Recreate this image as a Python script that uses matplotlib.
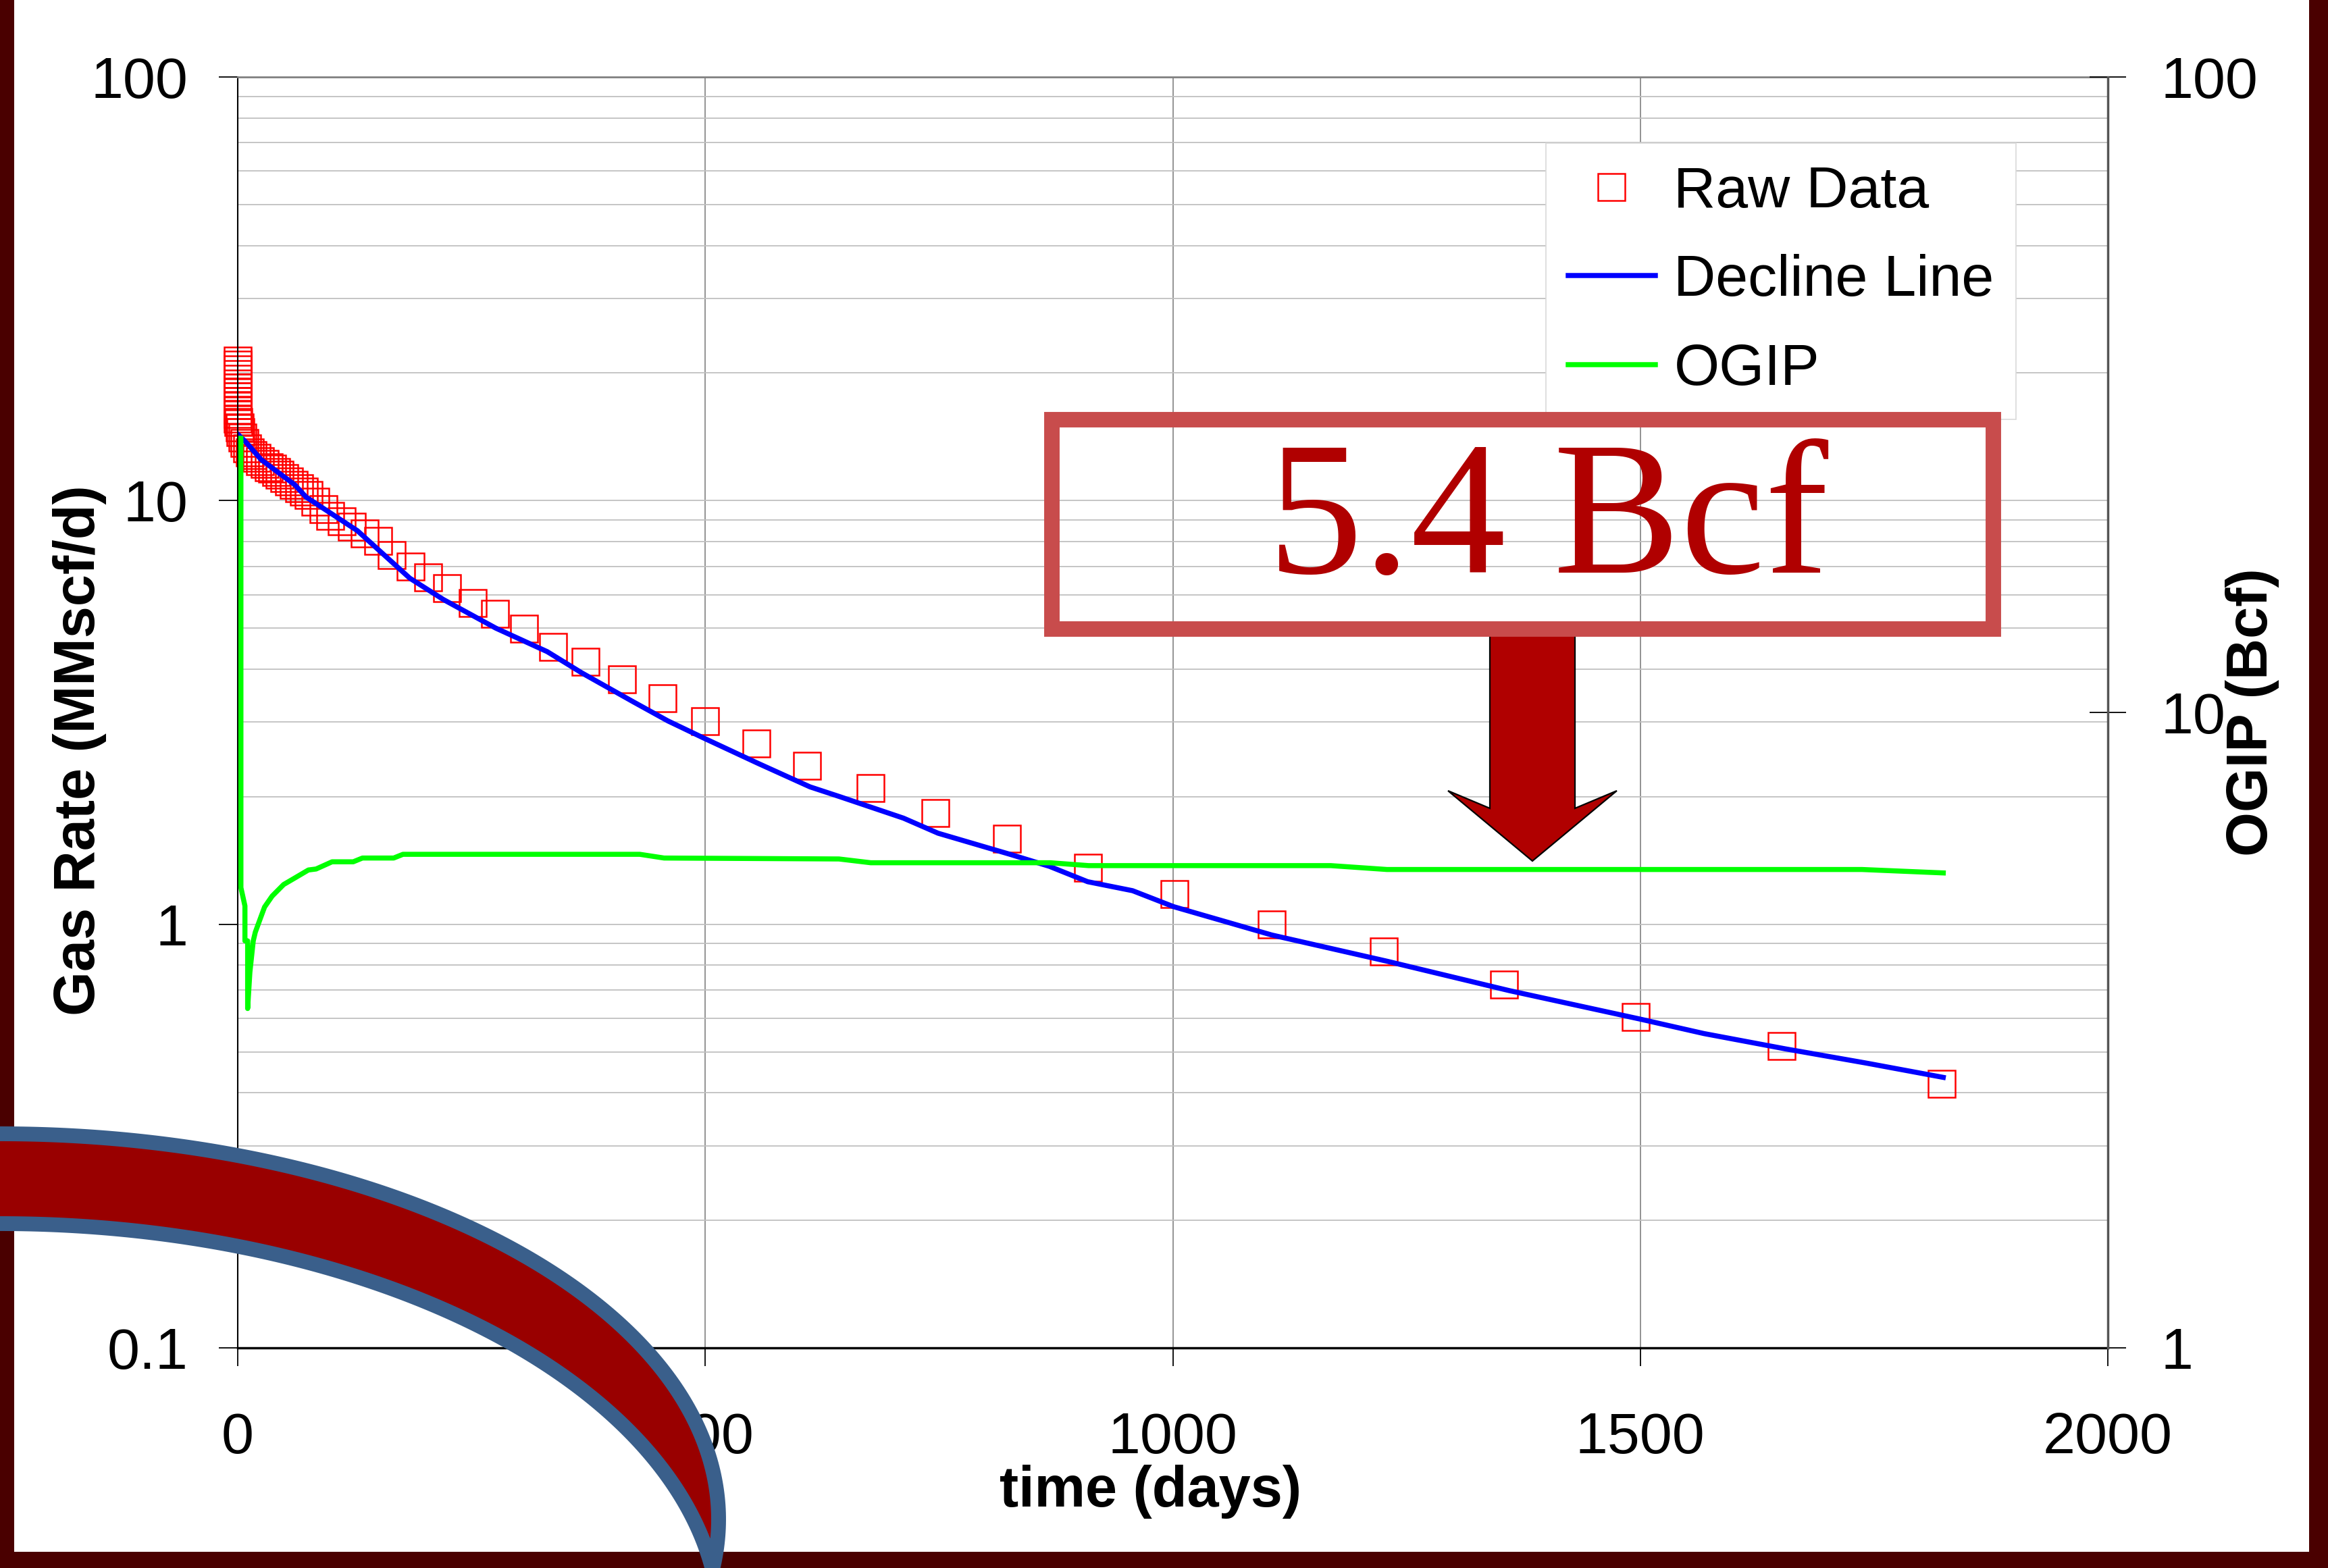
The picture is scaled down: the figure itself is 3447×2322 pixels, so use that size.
import numpy as np
import matplotlib
matplotlib.use("Agg")
import matplotlib.pyplot as plt
from matplotlib.patches import Rectangle, Polygon
from matplotlib.ticker import FixedLocator, FuncFormatter, NullLocator, NullFormatter, LogLocator

W, H = 3447, 2322

# raw production data (days, MMscf/d)
raw_days = [0, 0, 0, 0, 0, 0, 0, 0, 0, 0, 0, 0, 0, 0,
            1, 2, 3, 5, 7, 10, 13, 16, 20, 24, 29, 33, 37, 41, 45, 50, 55, 60,
            66, 71, 76, 83, 92, 99, 111, 122, 136, 150, 165, 185, 204, 224, 251,
            275, 306, 337, 372, 411, 454, 500, 555, 609, 677, 746, 823, 909,
            1002, 1106, 1226, 1354, 1495, 1651, 1822]
raw_rate = [21.4, 20.9, 20.4, 19.9, 19.4, 18.9, 18.5, 18.0, 17.6, 17.2, 16.8, 16.4, 16.0, 15.6,
            15.3, 14.9, 14.5, 14.1, 13.7, 13.3, 13.0, 12.8, 12.6, 12.4, 12.2, 12.0, 11.9, 11.7,
            11.5, 11.3, 11.1, 10.9, 10.7, 10.5, 10.3, 9.95, 9.56, 9.2, 8.95, 8.69, 8.37, 8.04,
            7.45, 7.0, 6.6, 6.22, 5.74, 5.41, 4.99, 4.52, 4.17, 3.78, 3.42, 3.02, 2.67, 2.37,
            2.10, 1.83, 1.59, 1.36, 1.18, 1.00, 0.862, 0.721, 0.603, 0.515, 0.420]

# decline curve
decline_days = [0, 8, 25, 40, 61, 73, 128, 184, 220, 276, 331, 368, 423, 460, 497,
                556, 612, 644, 712, 749, 827, 868, 909, 957, 1001, 1106, 1229, 1360,
                1500, 1568, 1655, 1742, 1824]
decline_rate = [14.35, 13.8, 12.5, 11.8, 10.9, 10.2, 8.49, 6.56, 5.84, 5.0, 4.40, 3.92,
                3.35, 3.02, 2.76, 2.40, 2.11, 2.0, 1.78, 1.64, 1.46, 1.37, 1.26, 1.20, 1.10,
                0.943, 0.818, 0.697, 0.597, 0.552, 0.508, 0.470, 0.435]

# OGIP estimate (Bcf), right axis
ogip_days = [3.4, 3.4, 7.7, 7.7, 10.6, 10.6, 13, 16.6, 18.8, 25.1, 28.7, 36.8, 49.1, 61.2,
             75.6, 83.8, 100.9, 123.5, 133.4, 166.8, 176.7, 430, 456, 643, 677, 869, 910,
             1169, 1229, 1650, 1737, 1824]
ogip_bcf = [27.0, 5.3, 4.96, 4.37, 4.37, 3.42, 3.9, 4.37, 4.51, 4.78, 4.94, 5.14, 5.36, 5.49,
            5.65, 5.67, 5.82, 5.82, 5.90, 5.90, 5.98, 5.98, 5.90, 5.88, 5.80, 5.80, 5.74,
            5.74, 5.66, 5.66, 5.66, 5.59]

rate_ticks = [0.1, 1, 10, 100]
ogip_ticks = [1, 10, 100]
time_ticks = [0, 500, 1000, 1500, 2000]
callout = "5.4 Bcf"


def fx(x):
    return x / W


def fy(y):
    return 1 - y / H


def main():
    plt.rcParams['font.family'] = ['Liberation Sans', 'DejaVu Sans']
    fig = plt.figure(figsize=(W / 100, H / 100), dpi=100, facecolor='white')

    ax = fig.add_axes([fx(352), fy(1996), (3121 - 352) / W, (1996 - 114) / H])
    ax.set_yscale('log')
    ax.set_xlim(0, 2000)
    ax.set_ylim(0.1, 100)
    ax.xaxis.set_major_locator(FixedLocator(time_ticks))
    ax.yaxis.set_major_locator(FixedLocator(rate_ticks))
    ax.yaxis.set_major_formatter(FuncFormatter(lambda v, p: '%g' % v))
    ax.yaxis.set_minor_locator(LogLocator(base=10, subs=range(2, 10)))
    ax.yaxis.set_minor_formatter(NullFormatter())
    ax.grid(which='both', axis='y', color='#c0c0c0', lw=1.3)
    ax.grid(which='major', axis='x', color='#808080', lw=1.2)
    ax.set_axisbelow(True)
    ax.tick_params(which='minor', length=0)
    ax.tick_params(axis='y', which='major', direction='out', length=20, width=1.3,
                   pad=33, labelsize=62)
    ax.tick_params(axis='x', which='major', direction='out', length=19.5, width=1.3,
                   pad=48, labelsize=62)

    ax.spines['top'].set_color('#808080')
    ax.spines['top'].set_linewidth(2)
    ax.spines['right'].set_visible(False)
    ax.spines['left'].set_linewidth(1.5)
    ax.spines['bottom'].set_linewidth(2.5)

    l_raw, = ax.plot(raw_days, raw_rate, ls='none', marker='s', ms=28.5, mfc='none',
                     mec='#ff0000', mew=1.8, clip_on=False, label='Raw Data')
    l_dec, = ax.plot(decline_days, decline_rate, color='#0000ff', lw=5.4, label='Decline Line')

    ax.set_xlabel('time (days)', fontsize=61, fontweight='bold')
    ax.xaxis.set_label_coords(0.488, -0.092)
    ax.set_ylabel('Gas Rate (MMscf/d)', fontsize=61, fontweight='bold')
    ax.yaxis.set_label_coords(-0.070, 0.47)

    ax2 = ax.twinx()
    ax2.set_yscale('log')
    ax2.set_ylim(1, 100)
    ax2.yaxis.set_major_locator(FixedLocator(ogip_ticks))
    ax2.yaxis.set_major_formatter(FuncFormatter(lambda v, p: '%g' % v))
    ax2.yaxis.set_minor_locator(NullLocator())
    ax2.tick_params(axis='y', direction='inout', length=39, width=1.3, pad=37, labelsize=62)
    for s in ['left', 'top', 'bottom']:
        ax2.spines[s].set_visible(False)
    ax2.spines['right'].set_color('#555555')
    ax2.spines['right'].set_linewidth(2.5)

    l_ogip, = ax2.plot(ogip_days, ogip_bcf, color='#00ff00', lw=5.4, label='OGIP')
    ax2.set_ylabel('OGIP (Bcf)', fontsize=61, fontweight='bold')
    ax2.yaxis.set_label_coords(1.0629, 0.5)

    leg = ax2.legend([l_raw, l_dec, l_ogip], ['Raw Data', 'Decline Line', 'OGIP'],
                     loc='upper left', bbox_to_anchor=(fx(2289), fy(212)),
                     bbox_transform=fig.transFigure, borderaxespad=0, fontsize=62,
                     numpoints=1, handlelength=1.5, handletextpad=0.32,
                     labelspacing=0.6, borderpad=0.38, fancybox=False,
                     framealpha=1, edgecolor='#d9d9d9')
    leg.get_frame().set_linewidth(1.2)

    # callout box with arrow
    arrow = [(2206, 935), (2332, 935), (2332, 1197), (2394, 1171), (2269, 1275),
             (2144, 1171), (2206, 1197)]
    fig.add_artist(Polygon([(fx(x), fy(y)) for x, y in arrow], closed=True,
                           transform=fig.transFigure, fc='#b00000', ec='black',
                           lw=1.6, zorder=3))
    fig.add_artist(Rectangle((fx(1557), fy(931)), (2951 - 1557) / W, (931 - 621) / H,
                             transform=fig.transFigure, fill=False, ec='#c84c4c',
                             lw=16.5, joinstyle='miter', zorder=4))
    fig.text(fx(2292), fy(848), callout, ha='center', va='baseline', fontsize=203,
             color='#b00000', family=['Liberation Serif', 'DejaVu Serif'], zorder=5)

    # slide frame
    for r in [(0, 0, 21, H), (3419, 0, 28, H), (0, 2298, W, 24)]:
        fig.add_artist(Rectangle((fx(r[0]), fy(r[1] + r[3])), r[2] / W, r[3] / H,
                                 transform=fig.transFigure, fc='#4a0000', ec='none',
                                 zorder=15))

    # swoosh decoration, bottom left
    t1 = np.radians(np.linspace(100, -12, 200))
    t2 = t1[::-1]
    xs = np.concatenate([1064 * np.cos(t1), 1066 * np.cos(t2)])
    ys = np.concatenate([2250 - 571 * np.sin(t1), 2410 - 598 * np.sin(t2)])
    fig.add_artist(Polygon(np.column_stack([xs / W, 1 - ys / H]), closed=True,
                           transform=fig.transFigure, fc='#990000', ec='#3a5f8b',
                           lw=15.8, zorder=20))

    fig.savefig('out.png', dpi=100)


if __name__ == '__main__':
    main()
